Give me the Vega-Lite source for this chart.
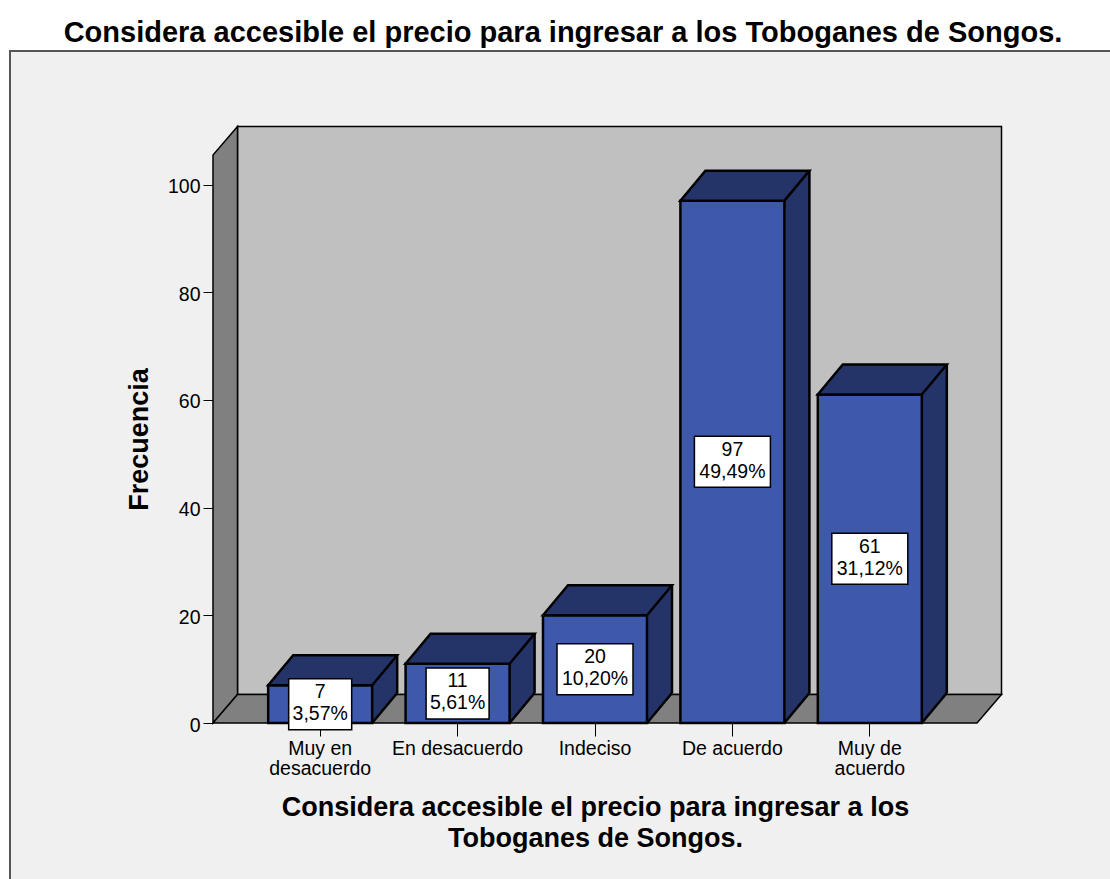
{
  "$schema": "https://vega.github.io/schema/vega-lite/v6.json",
  "autosize": {"type": "none"},
  "width": 764,
  "height": 568,
  "padding": {"left": 213, "top": 155, "right": 133, "bottom": 156},
  "background": "#f0f0f0",
  "title": {
    "text": "Considera accesible el precio para ingresar a los Toboganes de Songos.",
    "font": "Liberation Sans",
    "fontSize": 29,
    "fontWeight": "bold",
    "color": "black",
    "anchor": "middle",
    "frame": "bounds",
    "offset": -48,
    "dx": 4
  },
  "config": {
    "view": {"stroke": null},
    "font": "Liberation Sans"
  },
  "data": {
    "values": [
      {"respuesta": "Muy en desacuerdo", "frecuencia": 7, "porcentaje": "3,57%"},
      {"respuesta": "En desacuerdo", "frecuencia": 11, "porcentaje": "5,61%"},
      {"respuesta": "Indeciso", "frecuencia": 20, "porcentaje": "10,20%"},
      {"respuesta": "De acuerdo", "frecuencia": 97, "porcentaje": "49,49%"},
      {"respuesta": "Muy de acuerdo", "frecuencia": 61, "porcentaje": "31,12%"}
    ]
  },
  "resolve": {"scale": {"y": "independent"}},
  "layer": [
    {
      "layer": [
        {
          "data": {"values": [{}]},
          "mark": {"type": "rect", "fill": "white", "xOffset": -213, "x2Offset": 133, "yOffset": -155, "y2Offset": -104},
          "encoding": {"x": {"value": 0}, "x2": {"value": "width"}, "y": {"value": 0}, "y2": {"value": 0}}
        },
        {
          "data": {"values": [{}]},
          "mark": {"type": "rect", "fill": "white", "xOffset": -213, "x2Offset": -203, "yOffset": -104, "y2Offset": 156},
          "encoding": {"x": {"value": 0}, "x2": {"value": 0}, "y": {"value": 0}, "y2": {"value": "height"}}
        },
        {
          "data": {"values": [{}]},
          "mark": {"type": "rect", "fillOpacity": 0, "stroke": "#555555", "strokeWidth": 2, "xOffset": -203, "x2Offset": 140, "yOffset": -104, "y2Offset": 165},
          "encoding": {"x": {"value": 0}, "x2": {"value": "width"}, "y": {"value": 0}, "y2": {"value": "height"}}
        },
        {
          "data": {"values": [{}]},
          "mark": {"type": "rect", "fill": "#c0c0c0", "stroke": "black", "strokeWidth": 1.5, "xOffset": 24.5, "x2Offset": 24.5, "yOffset": -28.5, "y2Offset": -28.5},
          "encoding": {"x": {"value": 0}, "x2": {"value": "width"}, "y": {"value": 0}, "y2": {"value": "height"}}
        },
        {
          "data": {"values": [{}]},
          "mark": {"type": "point", "filled": true, "opacity": 1, "fill": "#808080", "stroke": "black", "strokeWidth": 1.5, "size": 4, "shape": "M -764 0 L -764 -568 L -739.5 -596.5 L -739.5 -28.5 Z"},
          "encoding": {
            "x": {"value": "width"},
            "y": {"datum": 0, "type": "quantitative", "scale": {"domain": [0, 105.48], "nice": false}}
          }
        },
        {
          "data": {"values": [{}]},
          "mark": {"type": "point", "filled": true, "opacity": 1, "fill": "#808080", "stroke": "black", "strokeWidth": 1.5, "size": 4, "shape": "M -764 0 L -739.5 -28.5 L 24.5 -28.5 L 0 0 Z"},
          "encoding": {
            "x": {"value": "width"},
            "y": {"datum": 0, "type": "quantitative", "scale": {"domain": [0, 105.48], "nice": false}}
          }
        },
        {
          "encoding": {
            "x": {
              "field": "respuesta",
              "type": "nominal",
              "sort": ["Muy en desacuerdo", "En desacuerdo", "Indeciso", "De acuerdo", "Muy de acuerdo"],
              "scale": {"type": "band", "paddingInner": 0.2431, "paddingOuter": 0.4016},
              "axis": {
                "title": ["Considera accesible el precio para ingresar a los", "Toboganes de Songos."],
                "titleFont": "Liberation Sans",
                "titleFontSize": 27,
                "titleFontWeight": "bold",
                "titleColor": "black",
                "titleLineHeight": 31,
                "titlePadding": 17,
                "labelFont": "Liberation Sans",
                "labelFontSize": 19.5,
                "labelColor": "black",
                "labelLineHeight": 20,
                "labelPadding": 3,
                "labelAngle": 0,
                "labelOverlap": false,
                "labelBound": false,
                "labelExpr": "datum.value == 'Muy en desacuerdo' ? ['Muy en', 'desacuerdo'] : datum.value == 'Muy de acuerdo' ? ['Muy de', 'acuerdo'] : datum.value",
                "tickSize": 13,
                "tickColor": "black",
                "tickWidth": 1,
                "domain": false,
                "grid": false
              }
            },
            "y": {
              "field": "frecuencia",
              "type": "quantitative",
              "scale": {"domain": [0, 105.48], "nice": false},
              "axis": {
                "title": "Frecuencia",
                "titleFont": "Liberation Sans",
                "titleFontSize": 27,
                "titleFontWeight": "bold",
                "titleColor": "black",
                "titlePadding": 14,
                "labelFont": "Liberation Sans",
                "labelFontSize": 19.5,
                "labelColor": "black",
                "labelPadding": 3,
                "labelOffset": 2,
                "values": [0, 20, 40, 60, 80, 100],
                "format": "d",
                "tickSize": 10,
                "tickColor": "black",
                "domain": false,
                "grid": false
              }
            }
          },
          "layer": [
            {
              "mark": {"type": "bar", "fill": "#243469", "xOffset": 25, "yOffset": -30, "y2Offset": -30}
            },
            {
              "mark": {"type": "point", "filled": true, "opacity": 1, "fill": "#243469", "stroke": "#243469", "strokeWidth": 1, "size": 4, "shape": "M 52 0 L 52 -30 L 77 -30 Z"},
              "encoding": {"y": {"datum": 0, "type": "quantitative"}}
            },
            {
              "mark": {"type": "bar", "fill": "#3e58ac", "stroke": "black", "strokeWidth": 2.5}
            },
            {
              "mark": {"type": "point", "filled": true, "opacity": 1, "fill": "#243469", "stroke": "black", "strokeWidth": 2.5, "size": 4, "shape": "M -52 0 L 52 0 L 77 -30 L -27 -30 Z"}
            },
            {
              "mark": {"type": "rule", "color": "black", "strokeWidth": 2.5, "xOffset": 77, "yOffset": -30, "y2Offset": -30},
              "encoding": {"y2": {"datum": 0}}
            },
            {
              "mark": {"type": "point", "filled": false, "opacity": 1, "stroke": "black", "strokeWidth": 2.5, "size": 4, "shape": "M 52 0 L 77 -30"},
              "encoding": {"y": {"datum": 0, "type": "quantitative"}}
            }
          ]
        }
      ]
    },
    {
      "encoding": {
        "x": {
          "field": "respuesta",
          "type": "nominal",
          "sort": ["Muy en desacuerdo", "En desacuerdo", "Indeciso", "De acuerdo", "Muy de acuerdo"],
          "scale": {"type": "band", "paddingInner": 0.2431, "paddingOuter": 0.4016}
        },
        "y": {
          "field": "frecuencia",
          "type": "quantitative",
          "scale": {"domain": [0, 210.96], "nice": false},
          "axis": null
        }
      },
      "layer": [
        {
          "mark": {"type": "point", "filled": true, "opacity": 1, "fill": "white", "stroke": "black", "strokeWidth": 1.5, "size": 4},
          "encoding": {
            "shape": {
              "condition": {"test": "length(datum.porcentaje) > 5", "value": "M -38 -25.5 L 38 -25.5 L 38 25.5 L -38 25.5 Z"},
              "value": "M -31.5 -25.5 L 31.5 -25.5 L 31.5 25.5 L -31.5 25.5 Z"
            }
          }
        },
        {
          "mark": {"type": "text", "font": "Liberation Sans", "fontSize": 19.5, "color": "black", "baseline": "alphabetic", "align": "center", "dy": -6},
          "encoding": {"text": {"field": "frecuencia", "type": "quantitative"}}
        },
        {
          "mark": {"type": "text", "font": "Liberation Sans", "fontSize": 19.5, "color": "black", "baseline": "alphabetic", "align": "center", "dy": 16},
          "encoding": {"text": {"field": "porcentaje", "type": "nominal"}}
        }
      ]
    }
  ]
}
